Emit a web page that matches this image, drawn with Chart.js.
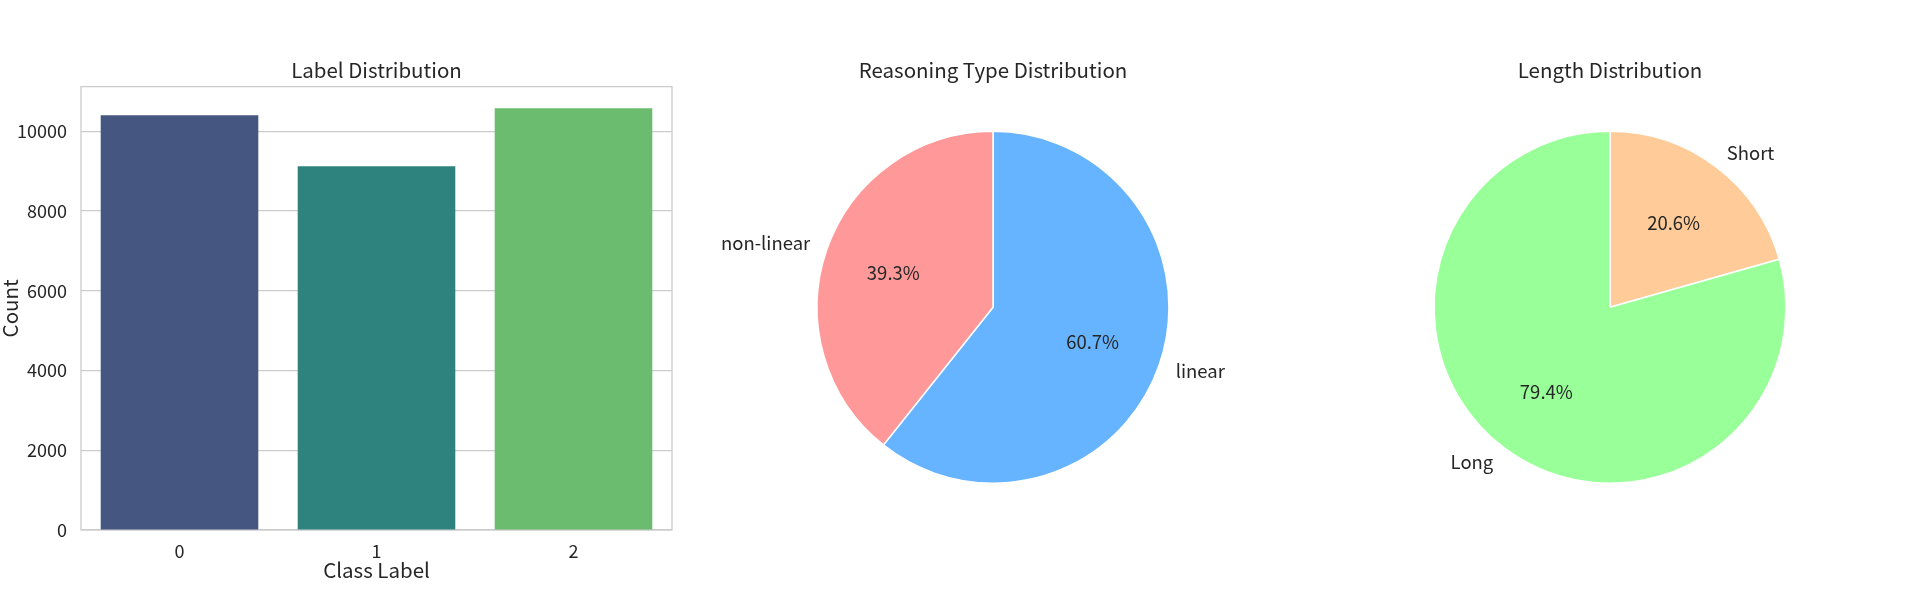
<!DOCTYPE html>
<html>
<head>
<meta charset="utf-8">
<script src="https://cdn.jsdelivr.net/npm/chart.js@4.4.1/dist/chart.umd.min.js"></script>
<style>
  body { margin: 0; background: #fff; }
  #wrap { position: relative; width: 1923px; height: 600px; }
  canvas { position: absolute; top: 0; }
</style>
</head>
<body>
<div id="wrap">
  <canvas id="label-chart" width="690" height="600" style="left:0px"></canvas>
  <canvas id="reasoning-chart" width="600" height="600" style="left:693px"></canvas>
  <canvas id="length-chart" width="600" height="600" style="left:1310px"></canvas>
</div>
<script>
// Data
var classLabels = ['0', '1', '2'];
var classCounts = [10400, 9120, 10580];
var countTicks = [0, 2000, 4000, 6000, 8000, 10000];

// pie slices listed clockwise from 12 o'clock
var reasoningLabels = ['linear', 'non-linear'];
var reasoningShares = [60.7, 39.3];
var lengthLabels = ['Short', 'Long'];
var lengthShares = [20.6, 79.4];

// Colours
var TEXT = '#262626';
var GRID = '#cccccc';
var FONT = '"Noto Sans CJK SC", "DejaVu Sans", sans-serif';
var BAR_COLORS = ['#455681', '#2f837f', '#6bbc6e'];
var REASONING_COLORS = ['#66b3ff', '#ff9999'];
var LENGTH_COLORS = ['#ffcc99', '#99ff99'];

Chart.defaults.font.family = FONT;
Chart.defaults.color = TEXT;

// box around the bar plot area, under the bars
var frame = {
  id: 'frame',
  beforeDatasetsDraw: function(chart) {
    var a = chart.chartArea;
    var ctx = chart.ctx;
    ctx.save();
    ctx.strokeStyle = GRID;
    ctx.lineWidth = 1.3;
    ctx.strokeRect(a.left, a.top, a.right - a.left, a.bottom - a.top);
    ctx.restore();
  }
};

// outside labels + percentages, matplotlib style
var pieText = {
  id: 'pieText',
  afterDatasetsDraw: function(chart) {
    var ctx = chart.ctx;
    var meta = chart.getDatasetMeta(0);
    var values = chart.data.datasets[0].data;
    var total = values.reduce(function(s, v) { return s + v; }, 0);
    ctx.save();
    ctx.font = '18.5px ' + FONT;
    ctx.fillStyle = TEXT;
    ctx.textBaseline = 'middle';
    meta.data.forEach(function(arc, i) {
      var p = arc.getProps(['x', 'y', 'startAngle', 'endAngle', 'outerRadius'], true);
      var mid = (p.startAngle + p.endAngle) / 2;
      var dx = Math.cos(mid), dy = Math.sin(mid);
      ctx.textAlign = dx > 0 ? 'left' : 'right';
      ctx.fillText(chart.data.labels[i], p.x + dx * p.outerRadius * 1.1, p.y + dy * p.outerRadius * 1.1);
      ctx.textAlign = 'center';
      ctx.fillText((values[i] / total * 100).toFixed(1) + '%', p.x + dx * p.outerRadius * 0.6, p.y + dy * p.outerRadius * 0.6);
    });
    ctx.restore();
  }
};

new Chart($('label-chart'), {
  type: 'bar',
  data: {
    labels: classLabels,
    datasets: [{
      data: classCounts,
      backgroundColor: BAR_COLORS,
      categoryPercentage: 1,
      barPercentage: 0.8
    }]
  },
  options: {
    responsive: false,
    animation: false,
    layout: { padding: { top: 0, right: 18, bottom: 0, left: 0 } },
    plugins: {
      legend: { display: false },
      tooltip: { enabled: false },
      title: {
        display: true,
        fullSize: false,
        text: 'Label Distribution',
        color: TEXT,
        font: { size: 20.5, weight: 'normal' },
        padding: { top: 58, bottom: 4 }
      }
    },
    scales: {
      x: {
        grid: { display: false, drawTicks: false },
        border: { display: false },
        ticks: { font: { size: 18 }, padding: 10 },
        title: { display: true, text: 'Class Label', font: { size: 20.5 }, padding: { top: 0, bottom: 17 } },
        afterFit: function(s) { s.height = 70; }
      },
      y: {
        min: 0,
        max: 11120,
        grid: { color: GRID, lineWidth: 1.25, drawTicks: false },
        border: { display: false },
        ticks: {
          font: { size: 18 },
          padding: 14,
          includeBounds: false,
          callback: function(v) { return String(v); }
        },
        afterBuildTicks: function(s) { s.ticks = countTicks.map(function(v) { return { value: v }; }); },
        title: { display: true, text: 'Count', font: { size: 20.5, lineHeight: 1 }, padding: 0 },
        afterFit: function(s) { s.width = 81; }
      }
    }
  },
  plugins: [frame]
});

function makePie(id, title, labels, values, colors) {
  return new Chart($(id), {
    type: 'pie',
    data: {
      labels: labels,
      datasets: [{
        data: values,
        backgroundColor: colors,
        borderColor: '#ffffff',
        borderWidth: 1.5
      }]
    },
    options: {
      responsive: false,
      animation: false,
      layout: { padding: { top: 0, right: 123, bottom: 116, left: 123 } },
      plugins: {
        legend: { display: false },
        tooltip: { enabled: false },
        title: {
          display: true,
          text: title,
          color: TEXT,
          font: { size: 20.5, weight: 'normal' },
          padding: { top: 58, bottom: 48 }
        }
      }
    },
    plugins: [pieText]
  });
}

function $(id) { return document.getElementById(id); }

makePie('reasoning-chart', 'Reasoning Type Distribution', reasoningLabels, reasoningShares, REASONING_COLORS);
makePie('length-chart', 'Length Distribution', lengthLabels, lengthShares, LENGTH_COLORS);
</script>
</body>
</html>
